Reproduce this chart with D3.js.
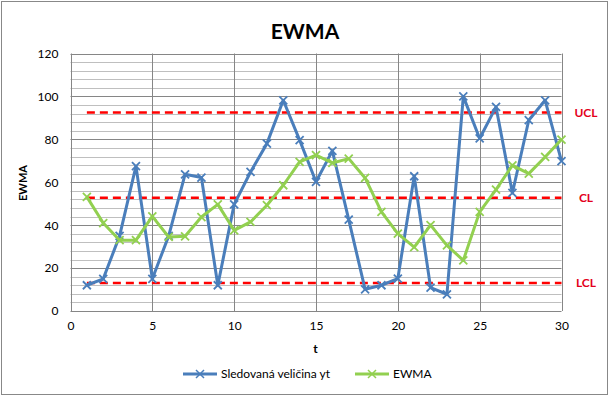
<!DOCTYPE html>
<html><head><meta charset="utf-8">
<script src="https://cdn.jsdelivr.net/npm/d3@7"></script>
<style>body{margin:0;background:#fff;}svg{display:block;font-family:Lato,"Open Sans",sans-serif;}</style>
</head><body><div id="chart"></div>
<script>
const t = d3.range(1, 31);
const yt = [12,15,35,67.5,15,35,63.7,62.2,12,49.7,64.8,78,98.2,79.6,60.2,74.6,42.6,10.1,12,15.1,62.8,10.9,7.8,100,80.4,95.1,55,88.9,98.2,69.8];
const ewma = [53.2,41,33,33,44.1,34.5,34.8,43.8,49.7,37.6,41.5,49.3,58.6,69.5,72.6,69,71,62,46.2,36.1,29.8,40,30.6,23.6,46.2,56.6,67.9,64,71.8,79.9];
const limits = [{name:"UCL", value:92.5},{name:"CL", value:52.8},{name:"LCL", value:13.1}];
const xTicks = [0,5,10,15,20,25,30];
const yTicks = [0,20,40,60,80,100,120];
const seriesNames = ["Sledovaná veličina yt","EWMA"];
const colors = ["#4A7EBB","#92D050"];

const W = 610, H = 397;
const svg = d3.select("#chart").append("svg").attr("width", W).attr("height", H);
svg.append("rect").attr("x",1.5).attr("y",1.5).attr("width",W-4).attr("height",H-4)
  .attr("fill","#fff").attr("stroke","#888").attr("stroke-width",1);

const x = d3.scaleLinear().domain([0,30]).range([70.5, 561.5]);
const y = d3.scaleLinear().domain([0,120]).range([311, 53.5]);

// minor grid
const g = svg.append("g");
g.selectAll(".minor").data(d3.range(0,121,4).filter(v=>v%20!==0)).join("line")
  .attr("x1",x(0)).attr("x2",x(30)).attr("y1",d=>Math.round(y(d))+0.5).attr("y2",d=>Math.round(y(d))+0.5)
  .attr("stroke","#bfbfbf").attr("stroke-width",1);
g.selectAll(".major").data(yTicks).join("line")
  .attr("x1",x(0)).attr("x2",x(30)).attr("y1",d=>Math.round(y(d))+0.5).attr("y2",d=>Math.round(y(d))+0.5)
  .attr("stroke","#868686").attr("stroke-width",1);
g.selectAll(".vmajor").data(xTicks).join("line")
  .attr("y1",y(0)).attr("y2",y(120)).attr("x1",d=>Math.round(x(d))+0.5).attr("x2",d=>Math.round(x(d))+0.5)
  .attr("stroke","#868686").attr("stroke-width",1);

// axes labels
const yAxis = d3.axisLeft(y).tickValues(yTicks).tickSize(0).tickPadding(12);
const ya = svg.append("g").attr("transform",`translate(${x(0)},0)`).call(yAxis);
ya.select(".domain").remove();
ya.selectAll("text").attr("font-size",12).attr("font-family","Lato,sans-serif").attr("fill","#000");
const xAxis = d3.axisBottom(x).tickValues(xTicks).tickSize(0).tickPadding(10);
const xa = svg.append("g").attr("transform",`translate(0,${y(0)})`).call(xAxis);
xa.select(".domain").remove();
xa.selectAll("text").attr("font-size",12).attr("font-family","Lato,sans-serif").attr("fill","#000");

// limit lines
limits.forEach(l=>{
  svg.append("line").attr("x1",x(1)).attr("x2",x(30)).attr("y1",y(l.value)).attr("y2",y(l.value))
    .attr("stroke","#ff0000").attr("stroke-width",2.5).attr("stroke-dasharray","8,5");
  svg.append("text").attr("x",586).attr("y",y(l.value)).attr("dy","0.35em").attr("text-anchor","middle")
    .attr("font-size",12).attr("font-weight","bold").attr("fill","#e3001b").text(l.name);
});

// series
const series = [yt, ewma];
const line = d3.line().x((d,i)=>x(t[i])).y(d=>y(d));
const m = 4;
series.forEach((s,k)=>{
  svg.append("path").datum(s).attr("d",line).attr("fill","none")
    .attr("stroke",colors[k]).attr("stroke-width",3).attr("stroke-linejoin","round");
  svg.append("g").selectAll("path").data(s).join("path")
    .attr("d",(d,i)=>{const cx=x(t[i]), cy=y(d); return `M${cx-m},${cy-m}L${cx+m},${cy+m}M${cx-m},${cy+m}L${cx+m},${cy-m}`;})
    .attr("stroke",colors[k]).attr("stroke-width",1.8).attr("fill","none");
});

// title
svg.append("text").attr("x",305).attr("y",39).attr("text-anchor","middle")
  .attr("font-size",21).attr("font-weight","bold").attr("fill","#000").text("EWMA");
svg.append("text").attr("x",315.5).attr("y",353).attr("text-anchor","middle")
  .attr("font-size",12).attr("font-weight","bold").text("t");
svg.append("text").attr("transform","translate(27,183) rotate(-90)").attr("text-anchor","middle")
  .attr("font-size",11).attr("font-weight","bold").text("EWMA");

// legend
const legX = [183, 355];
seriesNames.forEach((n,k)=>{
  const lx = legX[k], ly = 374;
  svg.append("line").attr("x1",lx).attr("x2",lx+34).attr("y1",ly).attr("y2",ly)
    .attr("stroke",colors[k]).attr("stroke-width",3);
  const cx = lx+17;
  svg.append("path").attr("d",`M${cx-m},${ly-m}L${cx+m},${ly+m}M${cx-m},${ly+m}L${cx+m},${ly-m}`)
    .attr("stroke",colors[k]).attr("stroke-width",1.5);
  svg.append("text").attr("x",lx+38).attr("y",ly).attr("dy","0.35em").attr("font-size",12).text(n);
});
</script></body></html>
